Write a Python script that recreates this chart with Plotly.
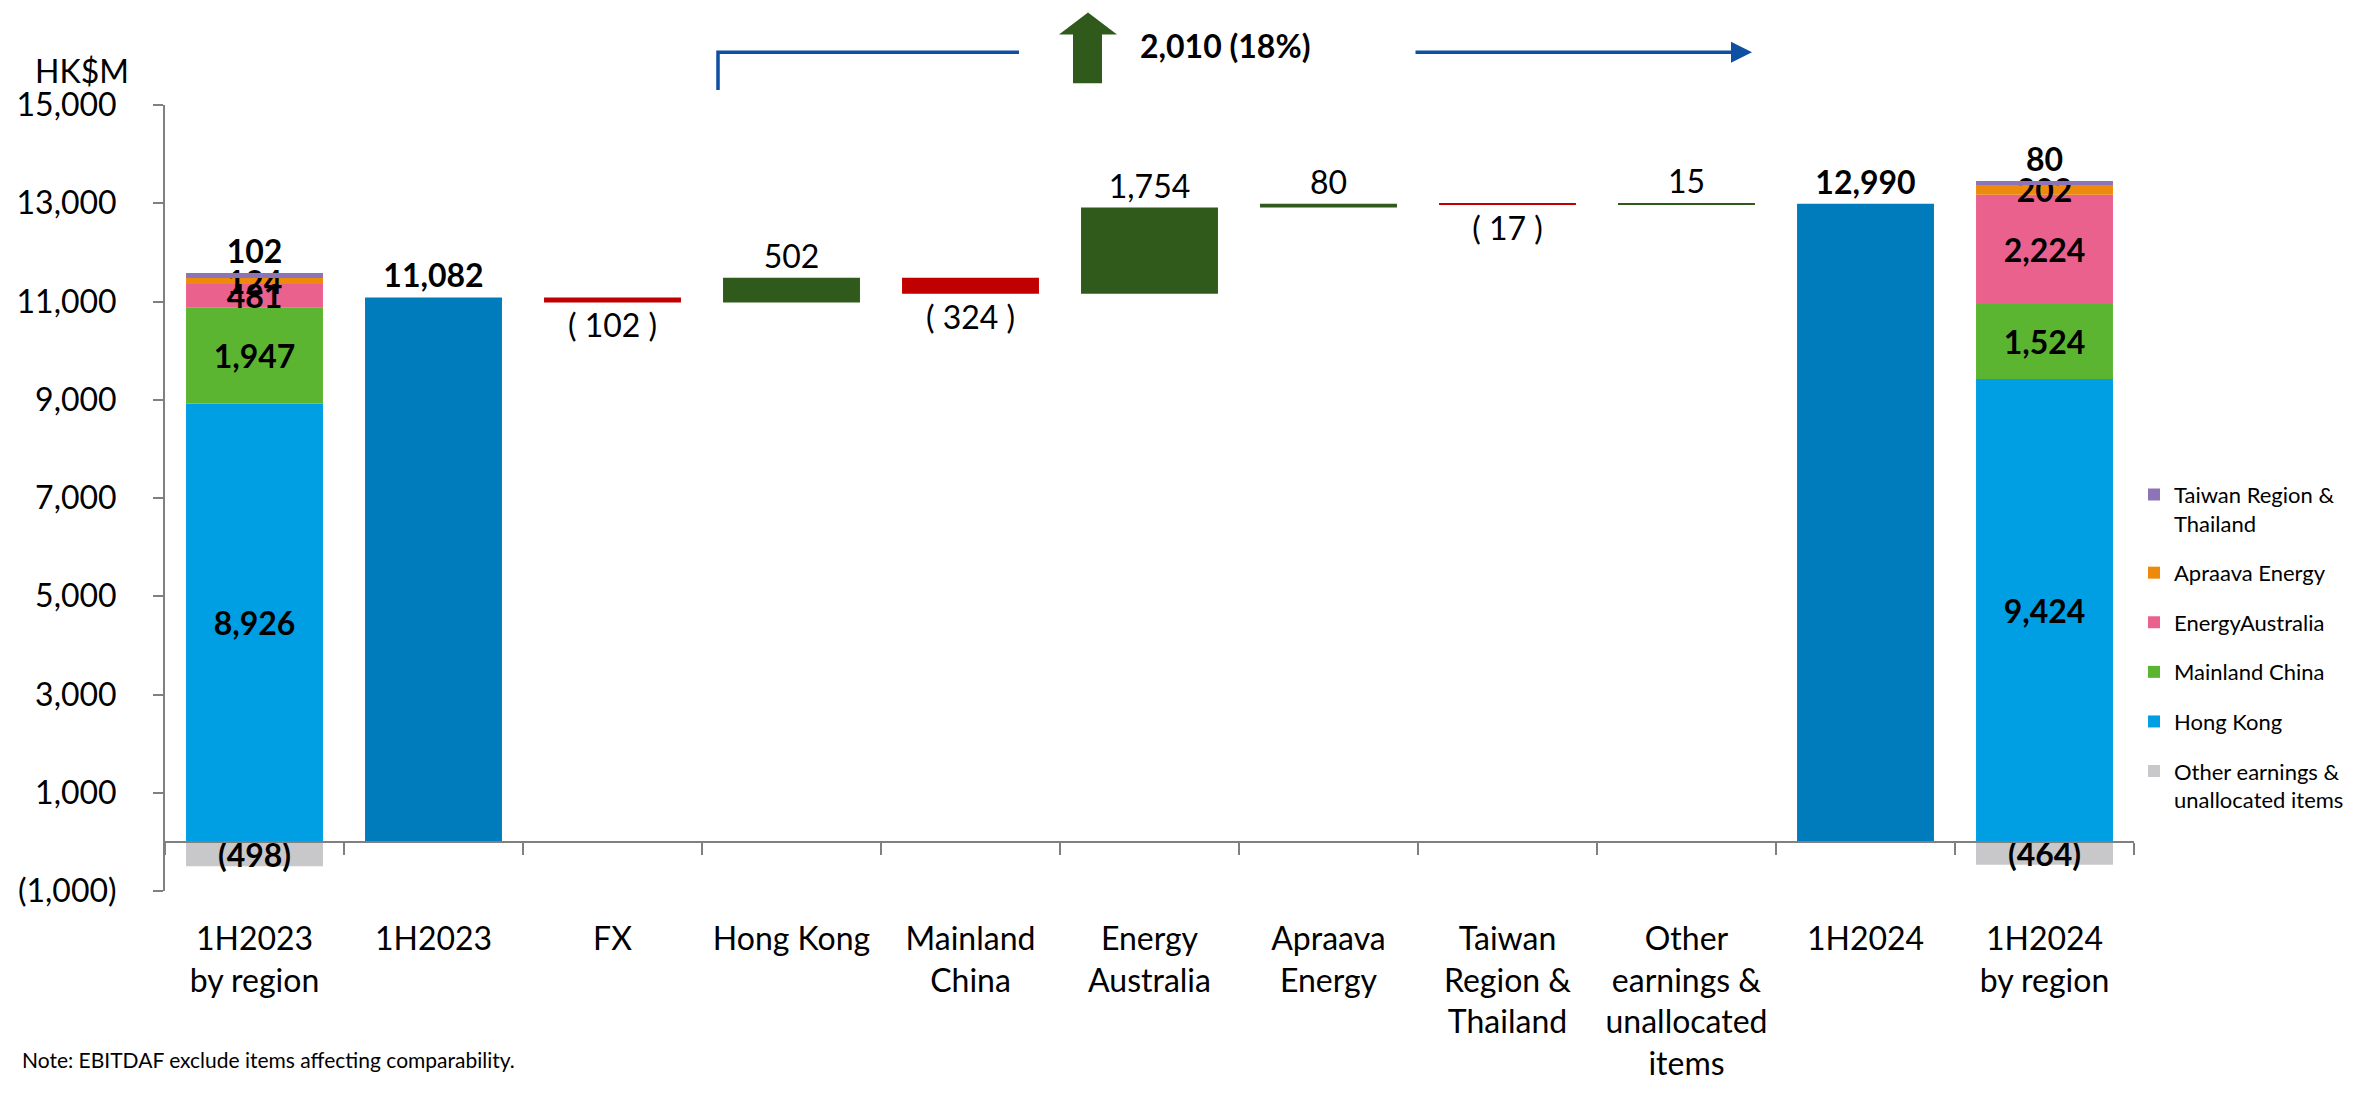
import plotly.graph_objects as go

# ---------------- data ----------------
categories = ["1H2023<br>by region", "1H2023", "FX", "Hong Kong", "Mainland<br>China",
              "Energy<br>Australia", "Apraava<br>Energy", "Taiwan<br>Region &<br>Thailand",
              "Other<br>earnings &<br>unallocated<br>items", "1H2024", "1H2024<br>by region"]

region_names = ["Other earnings &<br>unallocated items", "Hong Kong", "Mainland China",
                "EnergyAustralia", "Apraava Energy", "Taiwan Region &<br>Thailand"]
region_1h2023 = [-498, 8926, 1947, 481, 124, 102]
region_1h2024 = [-464, 9424, 1524, 2224, 202, 80]

bridge_start = 11082
bridge_deltas = [-102, 502, -324, 1754, 80, -17, 15]
bridge_end = 12990

y_tick_values = [-1000, 1000, 3000, 5000, 7000, 9000, 11000, 13000, 15000]
growth_label = "2,010 (18%)"
unit_label = "HK$M"
note_label = "Note: EBITDAF exclude items affecting comparability."

# ---------------- styles ----------------
FONT = "Lato"
FS = 32
region_colors = ["#C8C8CA", "#009FE3", "#5CB531", "#EB618D", "#EE8A0B", "#8D74B7"]
TOTAL_BLUE = "#007CBD"
UP_GREEN = "#2F5A1B"
DOWN_RED = "#C00000"
AXIS_GREY = "#808080"
ARROW_BLUE = "#0E4EA3"
BAR_W = 0.765

W, H = 2379, 1094
ML, MR, MT, MB = 165, 245, 105, 198
PW, PH = W - ML - MR, H - MT - MB


def px2paper_x(px):
    return (px - ML) / PW


def px2paper_y(py):
    return (H - MB - py) / PH


def fmt_region(v):
    return f"({abs(v):,})" if v < 0 else f"{v:,}"


def fmt_delta(v):
    return f"( {abs(v):,} )" if v < 0 else f"{v:,}"


fig = go.Figure()

# stacked regional bars
for i, name in enumerate(region_names):
    vals = [region_1h2023[i], region_1h2024[i]]
    is_top = i == len(region_names) - 1
    fig.add_trace(go.Bar(
        x=[categories[0], categories[-1]],
        y=vals,
        name=name,
        legendgroup=f"g{i}",
        legendrank=len(region_names) - i,
        width=BAR_W,
        marker=dict(color=region_colors[i], line=dict(width=0)),
        text=[f"<b>{fmt_region(v)}</b>" for v in vals],
        texttemplate="%{text}",
        textposition="outside" if is_top else "inside",
        insidetextanchor="middle",
        textfont=dict(family=FONT, size=FS, color="black"),
        cliponaxis=False,
        hoverinfo="skip",
    ))

# bridge (waterfall)
wf_x = categories[1:-1]
wf_measure = ["absolute"] + ["relative"] * len(bridge_deltas) + ["total"]
wf_y = [bridge_start] + bridge_deltas + [bridge_end]
wf_text = [f"<b>{bridge_start:,}</b>"] + [fmt_delta(d) for d in bridge_deltas] + [f"<b>{bridge_end:,}</b>"]
fig.add_trace(go.Waterfall(
    x=wf_x,
    y=wf_y,
    measure=wf_measure,
    width=[BAR_W] * len(wf_x),
    text=wf_text,
    texttemplate="%{text}",
    textposition="outside",
    textfont=dict(family=FONT, size=FS, color="black"),
    cliponaxis=False,
    connector=dict(visible=False),
    increasing=dict(marker=dict(color=UP_GREEN, line=dict(width=0))),
    decreasing=dict(marker=dict(color=DOWN_RED, line=dict(width=0))),
    totals=dict(marker=dict(color=TOTAL_BLUE, line=dict(width=0))),
    showlegend=False,
    hoverinfo="skip",
))

# helper trace for the zero-line category axis
n = len(categories)
fig.add_trace(go.Scatter(x=[], y=[], xaxis="x2", yaxis="y", showlegend=False, hoverinfo="skip"))

y_min, y_max = y_tick_values[0], y_tick_values[-1]

fig.update_layout(
    width=W, height=H,
    margin=dict(l=ML, r=MR, t=MT, b=MB, pad=0),
    paper_bgcolor="white", plot_bgcolor="white",
    barmode="relative",
    font=dict(family=FONT, size=FS, color="black"),
    uniformtext=dict(minsize=FS, mode="show"),
    showlegend=True,
    legend=dict(
        x=1.0, xanchor="left", y=px2paper_y(476), yanchor="top",
        traceorder="grouped", tracegroupgap=18, valign="top",
        font=dict(family=FONT, size=22, color="black"),
        bgcolor="rgba(0,0,0,0)",
    ),
    xaxis=dict(
        type="category", categoryorder="array", categoryarray=categories,
        range=[-0.5, n - 0.5],
        showline=False, showgrid=False, zeroline=False,
        ticks="", ticklabelstandoff=26,
        tickfont=dict(family=FONT, size=FS, color="black"),
    ),
    xaxis2=dict(
        overlaying="x", anchor="free",
        position=(0 - y_min) / (y_max - y_min),
        type="linear", range=[-0.5, n - 0.5],
        tickmode="array", tickvals=[k - 0.5 for k in range(n + 1)],
        showticklabels=False, ticks="outside", ticklen=12, tickwidth=2, tickcolor=AXIS_GREY,
        showline=True, linecolor=AXIS_GREY, linewidth=2,
        showgrid=False, zeroline=False,
    ),
    yaxis=dict(
        range=[y_min, y_max],
        tickmode="array", tickvals=y_tick_values,
        ticktext=[fmt_region(v) for v in y_tick_values],
        ticks="outside", ticklen=10, tickwidth=2, tickcolor=AXIS_GREY,
        showline=True, linecolor=AXIS_GREY, linewidth=2,
        showgrid=False, zeroline=False,
        ticklabelstandoff=30,
        tickfont=dict(family=FONT, size=FS, color="black"),
    ),
)

# bracket line and arrows above the chart
bx0, bx1 = px2paper_x(718), px2paper_x(1019)
by0, by1 = px2paper_y(90), px2paper_y(52)
fig.add_shape(type="path", xref="paper", yref="paper",
              path=f"M {bx0},{by0} L {bx0},{by1} L {bx1},{by1}",
              line=dict(color=ARROW_BLUE, width=3.5))
fig.add_annotation(xref="paper", yref="paper", x=px2paper_x(1752), y=by1,
                   ax=-(1752 - 1414), ay=0, text="", showarrow=True,
                   arrowhead=2, arrowsize=1.2, arrowwidth=3.5, arrowcolor=ARROW_BLUE)

# green up arrow
pts = [(1088, 12), (1117, 34), (1102, 34), (1102, 83), (1073, 83), (1073, 34), (1059, 34)]
path = "M " + " L ".join(f"{px2paper_x(a)},{px2paper_y(b)}" for a, b in pts) + " Z"
fig.add_shape(type="path", xref="paper", yref="paper", path=path,
              fillcolor=UP_GREEN, line=dict(width=0))

fig.add_annotation(xref="paper", yref="paper", x=px2paper_x(1138), y=px2paper_y(45),
                   xanchor="left", yanchor="middle", showarrow=False,
                   text=f"<b>{growth_label}</b>", font=dict(family=FONT, size=FS, color="black"))

fig.add_annotation(xref="paper", yref="paper", x=px2paper_x(33), y=px2paper_y(70),
                   xanchor="left", yanchor="middle", showarrow=False,
                   text=unit_label, font=dict(family=FONT, size=FS, color="black"))

fig.add_annotation(xref="paper", yref="paper", x=px2paper_x(20), y=px2paper_y(1066),
                   xanchor="left", yanchor="middle", showarrow=False,
                   text=note_label, font=dict(family=FONT, size=21, color="black"))

fig.write_html("out.html", config={"displayModeBar": False},
               post_script="document.body.style.margin='0';")
